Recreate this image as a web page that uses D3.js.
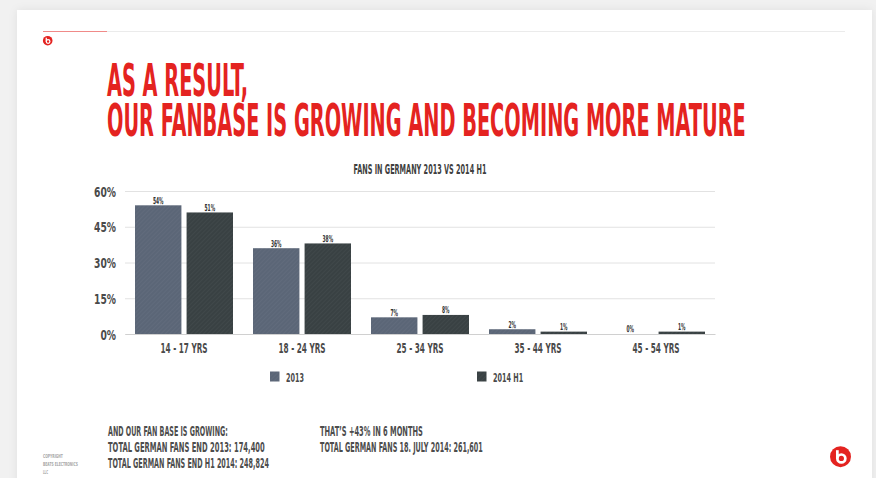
<!DOCTYPE html>
<html><head><meta charset="utf-8">
<script src="https://cdn.jsdelivr.net/npm/d3@7"></script>
<style>
html,body{margin:0;padding:0;background:#f1f1f1;overflow:hidden;}
svg{display:block;}
text{font-family:"Liberation Sans Narrow","DejaVu Sans Condensed","Liberation Sans",sans-serif;font-weight:bold;}
</style></head><body>
<svg id="c" width="876" height="478"></svg>
<script>
// ---- data ----
const categories = ["14 - 17 YRS","18 - 24 YRS","25 - 34 YRS","35 - 44 YRS","45 - 54 YRS"];
const seriesNames = ["2013","2014 H1"];
const values2013 = [54,36,7,2,0];
const values2014H1 = [51,38,8,1,1];
const yTicks = [0,15,30,45,60];
const titleLines = ["AS A RESULT,","OUR FANBASE IS GROWING AND BECOMING MORE MATURE"];
const chartTitle = "FANS IN GERMANY 2013 VS 2014 H1";
const notesLeft = ["AND OUR FAN BASE IS GROWING:","TOTAL GERMAN FANS END 2013: 174,400","TOTAL GERMAN FANS END H1 2014: 248,824"];
const notesRight = ["THAT\u2019S +43% IN 6 MONTHS","TOTAL GERMAN FANS 18. JULY 2014: 261,601"];
const copyright = ["COPYRIGHT","BEATS ELECTRONICS","LLC"];

const seriesValues = [values2013, values2014H1];
const colors = ["#5b6677","#394143"];
const red = "#e42320";

const svg = d3.select("#c");
// horizontally compress a text node by factor k, keeping its anchor x
function squeezeNode(node, k){
  const x = +(node.getAttribute("x") || 0);
  node.setAttribute("x", x/k);
  node.setAttribute("transform", `scale(${k},1)`);
}
function fit(sel, target){ sel.each(function(){ squeezeNode(this, target/this.getComputedTextLength()); }); }
function squeeze(sel, k){ sel.each(function(){ squeezeNode(this, k); }); }

const defs = svg.append("defs");
const f = defs.append("filter").attr("id","sh").attr("x","-5%").attr("y","-5%").attr("width","110%").attr("height","110%");
f.append("feDropShadow").attr("dx",0).attr("dy",0).attr("stdDeviation",4).attr("flood-color","#000").attr("flood-opacity",0.07);
colors.forEach((c,i)=>{
  const p = defs.append("pattern").attr("id","hatch"+i).attr("patternUnits","userSpaceOnUse")
    .attr("width",3).attr("height",3).attr("patternTransform","rotate(45)");
  p.append("rect").attr("width",3).attr("height",3).attr("fill",c);
  p.append("line").attr("x1",0).attr("y1",0).attr("x2",0).attr("y2",3).attr("stroke","#fff").attr("stroke-opacity",0.07).attr("stroke-width",1);
});

// card
svg.append("rect").attr("x",17).attr("y",10).attr("width",855).attr("height",480).attr("fill","#fff").attr("filter","url(#sh)");
// top rule
svg.append("line").attr("x1",43).attr("x2",845).attr("y1",31.5).attr("y2",31.5).attr("stroke","#ebebeb").attr("stroke-width",1);
svg.append("line").attr("x1",43).attr("x2",107).attr("y1",31.5).attr("y2",31.5).attr("stroke","#f08a88").attr("stroke-width",1);

// logos
function logo(cx, cy, r){
  const g = svg.append("g");
  g.append("circle").attr("cx",cx).attr("cy",cy).attr("r",r).attr("fill",red);
  g.append("circle").attr("cx",cx+r*0.08).attr("cy",cy+r*0.17).attr("r",r*0.38).attr("fill","none").attr("stroke","#fff").attr("stroke-width",r*0.26);
  g.append("rect").attr("x",cx-r*0.43).attr("y",cy-r*0.62).attr("width",r*0.26).attr("height",r*0.8).attr("fill","#fff");
}
logo(47.7,40.7,4.8);
logo(840.5,456.7,10.5);

// title: one text element, two lines
{
  const t = svg.append("text").attr("fill",red).attr("font-size",45).attr("x",0).attr("y",0);
  const s1 = t.append("tspan").attr("x",107).attr("y",96).text(titleLines[0]);
  const s2 = t.append("tspan").attr("x",107).attr("y",136.5).text(titleLines[1]);
  const k = 639/s2.node().getComputedTextLength();
  t.attr("transform",`scale(${k},1)`);
  s1.attr("x",107/k); s2.attr("x",107/k);
}

// chart title
svg.append("text").attr("x",420).attr("y",174).attr("text-anchor","middle").attr("font-size",13.5).attr("fill","#3f3f3f")
  .text(chartTitle).call(fit,133);

// scales
const x0 = d3.scaleBand().domain(categories).range([125,715]).paddingInner(0).paddingOuter(0);
const x1 = d3.scaleBand().domain(seriesNames).range([10,108]).paddingInner(0.1);
const y = d3.scaleLinear().domain([0,60]).range([334,191]);

// y axis + grid
const ya = svg.append("g").attr("transform","translate(125,0)")
  .call(d3.axisLeft(y).tickValues(yTicks).tickFormat(d=>d+"%").tickSize(-590).tickPadding(9));
ya.select(".domain").remove();
ya.selectAll("line").attr("stroke","#e2e2e2").attr("stroke-width",1);
ya.selectAll("text").attr("font-size",14.5).attr("fill","#4a4a4a").attr("font-family",null).attr("dy","0.36em");
{
  const n = ya.selectAll("text").nodes().find(e=>e.textContent==="60%");
  ya.selectAll("text").call(squeeze, 22/n.getComputedTextLength());
}

// bars
const groups = svg.append("g").selectAll("g").data(categories).join("g")
  .attr("transform", d=>`translate(${x0(d)},0)`);
const bars = groups.selectAll("g").data((c,i)=>seriesNames.map((s,j)=>({s, j, v: seriesValues[j][i]}))).join("g");
bars.append("rect").attr("x",d=>x1(d.s)).attr("width",x1.bandwidth())
  .attr("y",d=>y(d.v)).attr("height",d=>y(0)-y(d.v)).attr("fill",d=>`url(#hatch${d.j})`);
const labels = bars.append("text").attr("x",d=>x1(d.s)+x1.bandwidth()/2).attr("y",d=>y(d.v)-1.5)
  .attr("text-anchor","middle").attr("font-size",9.5).attr("fill","#333").text(d=>d.v+"%");
labels.call(squeeze, 10.6/labels.node().getComputedTextLength());

// x axis
const xa = svg.append("g").attr("transform","translate(0,334)")
  .call(d3.axisBottom(x0).tickSize(0).tickPadding(9));
xa.select(".domain").attr("stroke","#d0d0d0").attr("stroke-width",1.2);
xa.selectAll("text").attr("font-size",14.5).attr("fill","#4a4a4a").attr("font-family",null);
xa.selectAll("text").call(squeeze, 47/xa.select("text").node().getComputedTextLength());

// legend
const lx = d3.scalePoint().domain(seriesNames).range([270,477]);
const lg = svg.append("g").selectAll("g").data(seriesNames).join("g").attr("transform",d=>`translate(${lx(d)},371.5)`);
lg.append("rect").attr("width",9.5).attr("height",10).attr("fill",(d,i)=>`url(#hatch${i})`);
const lt = lg.append("text").attr("x",16).attr("y",10).attr("font-size",13).attr("fill","#4a4a4a").text(d=>d);
lt.call(squeeze, 18/lt.node().getComputedTextLength());

// notes
const nl = svg.append("g").attr("font-size",13.5).attr("fill","#4d4d4d");
const leftW = [120,157,161];
nl.selectAll("text.l").data(notesLeft).join("text").attr("class","l").attr("x",108).attr("y",(d,i)=>436+i*16).text(d=>d)
  .each(function(d,i){ d3.select(this).call(fit,leftW[i]); });
const rightW = [103,163];
nl.selectAll("text.r").data(notesRight).join("text").attr("class","r").attr("x",320).attr("y",(d,i)=>436+i*16).text(d=>d)
  .each(function(d,i){ d3.select(this).call(fit,rightW[i]); });

const cw = [20,35,5];
svg.append("g").attr("font-size",5.5).attr("fill","#a8a8a8").selectAll("text").data(copyright).join("text")
  .attr("x",43).attr("y",(d,i)=>458+i*8).text(d=>d).each(function(d,i){ d3.select(this).call(fit,cw[i]); });
</script>
</body></html>
